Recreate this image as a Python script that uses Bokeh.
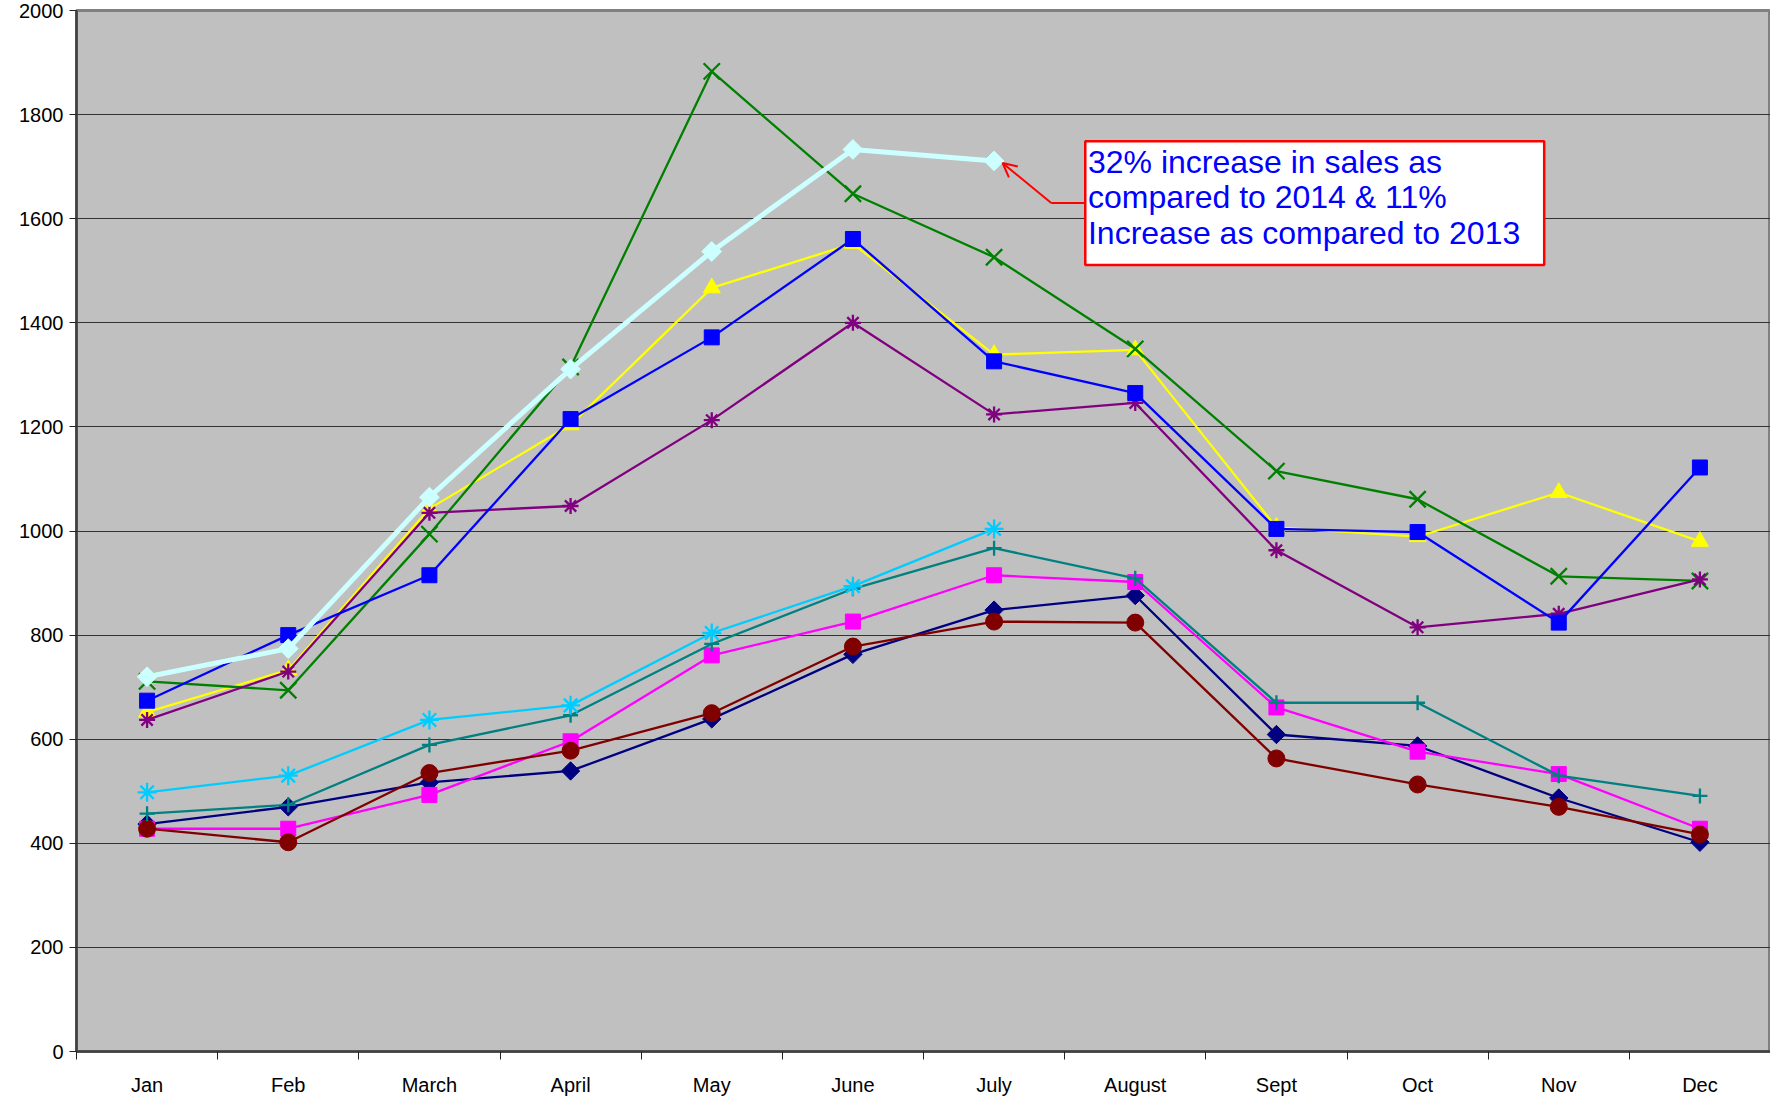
import math
from bokeh.plotting import figure
from bokeh.models import FixedTicker, Arrow, OpenHead
from bokeh.core.properties import value
from bokeh.embed import file_html
from bokeh.resources import INLINE

months = ["Jan", "Feb", "March", "April", "May", "June", "July", "August", "Sept", "Oct", "Nov", "Dec"]

navy_diamond = [437, 470, 517, 539, 639, 763, 848, 876, 609, 587, 487, 402]
darkred_circle = [428, 402, 535, 578, 650, 778, 826, 824, 563, 513, 470, 417]
magenta_square = [428, 428, 493, 596, 761, 826, 915, 902, 661, 576, 533, 428]
teal_plus = [457, 474, 589, 646, 783, 889, 967, 909, 670, 670, 530, 491]
cyan_asterisk = [498, 530, 637, 665, 804, 894, 1004]
yellow_triangle = [652, 733, 1043, 1204, 1467, 1552, 1339, 1348, 1007, 989, 1074, 980]
blue_square = [674, 800, 915, 1215, 1372, 1561, 1326, 1265, 1004, 998, 824, 1122]
green_x = [711, 694, 994, 1315, 1883, 1648, 1526, 1350, 1115, 1061, 913, 904]
purple_asterisk = [637, 730, 1035, 1048, 1213, 1400, 1224, 1246, 963, 815, 841, 907]
lightcyan_diamond = [720, 774, 1065, 1311, 1537, 1733, 1711]

annotation_lines = ["32% increase in sales as", "compared to 2014 & 11%", "Increase as compared to 2013"]

FONT = "Liberation Sans"

p = figure(width=1770, height=1098, frame_width=1694, frame_height=1041,
           x_range=(0.5, 12.5), y_range=(0, 2000),
           output_backend="svg", toolbar_location=None,
           min_border_left=76, min_border_right=0, min_border_top=10, min_border_bottom=10)
p.background_fill_color = "#C0C0C0"
p.border_fill_color = "white"
p.outline_line_color = "#808080"
p.outline_line_width = 3

# axes
p.xaxis.ticker = FixedTicker(ticks=list(range(1, 13)), minor_ticks=[i + 0.5 for i in range(0, 13)])
p.xaxis.major_label_overrides = {i + 1: m for i, m in enumerate(months)}
p.xaxis.major_tick_out = 0
p.xaxis.major_tick_in = 0
p.xaxis.minor_tick_out = 8
p.xaxis.minor_tick_in = 0
p.xaxis.minor_tick_line_color = "#222222"
p.xaxis.axis_line_color = "#404040"
p.xaxis.axis_line_width = 2.5
p.xaxis.major_label_standoff = 14
p.xaxis.major_label_text_font = FONT
p.xaxis.major_label_text_font_size = "20px"
p.xaxis.major_label_text_color = "black"

p.yaxis.ticker = FixedTicker(ticks=list(range(0, 2001, 200)))
p.yaxis.minor_tick_line_color = None
p.yaxis.major_tick_out = 7
p.yaxis.major_tick_in = 0
p.yaxis.major_tick_line_color = "#222222"
p.yaxis.axis_line_color = "#404040"
p.yaxis.axis_line_width = 2.5
p.yaxis.major_label_standoff = 6
p.yaxis.major_label_text_font = FONT
p.yaxis.major_label_text_font_size = "20px"
p.yaxis.major_label_text_color = "black"

p.xgrid.grid_line_color = None
p.ygrid.grid_line_color = "#333333"
p.ygrid.grid_line_width = 1

x12 = list(range(1, 13))
x7 = list(range(1, 8))

def series(xs, ys, color, marker, size, lw=2.3, fill=True, angle=0.0):
    p.line(xs, ys, line_color=color, line_width=lw)
    p.scatter(xs, ys, marker=marker, size=size, angle=angle, line_color=color,
              fill_color=color if fill else None, line_width=2.3 if not fill else 1)

series(x12, navy_diamond, "#000080", "square", 13, angle=math.pi / 4)
series(x12, magenta_square, "#FF00FF", "square", 15)
series(x12, yellow_triangle, "#FFFF00", "triangle", 17)
series(x12, green_x, "#008000", "x", 23, fill=False)
series(x12, purple_asterisk, "#800080", "asterisk", 16, fill=False)
series(x12, darkred_circle, "#800000", "circle", 17)
series(x12, teal_plus, "#008080", "cross", 15, fill=False)
series(x12, blue_square, "#0000FF", "square", 15)
series(x7, cyan_asterisk, "#00CCFF", "asterisk", 19, fill=False)
series(x7, lightcyan_diamond, "#CCFFFF", "square", 14, lw=5, angle=math.pi / 4)

# annotation box
p.quad(left=[7.646], right=[10.897], top=[1749], bottom=[1511],
       fill_color="white", line_color="#FF0000", line_width=2.5)
p.text(x=[7.665] * 3, y=[1709, 1641, 1572], text=annotation_lines,
       text_font=value(FONT), text_font_size="32px", text_color="#0000FF",
       text_baseline="middle", text_align="left")

# arrow
p.line([7.646, 7.405], [1630, 1630], line_color="#FF0000", line_width=2)
p.add_layout(Arrow(end=OpenHead(size=14, line_color="#FF0000", line_width=2),
                   x_start=7.405, y_start=1630, x_end=7.06, y_end=1707,
                   line_color="#FF0000", line_width=2))

open("out.html", "w").write(file_html(p, INLINE))
